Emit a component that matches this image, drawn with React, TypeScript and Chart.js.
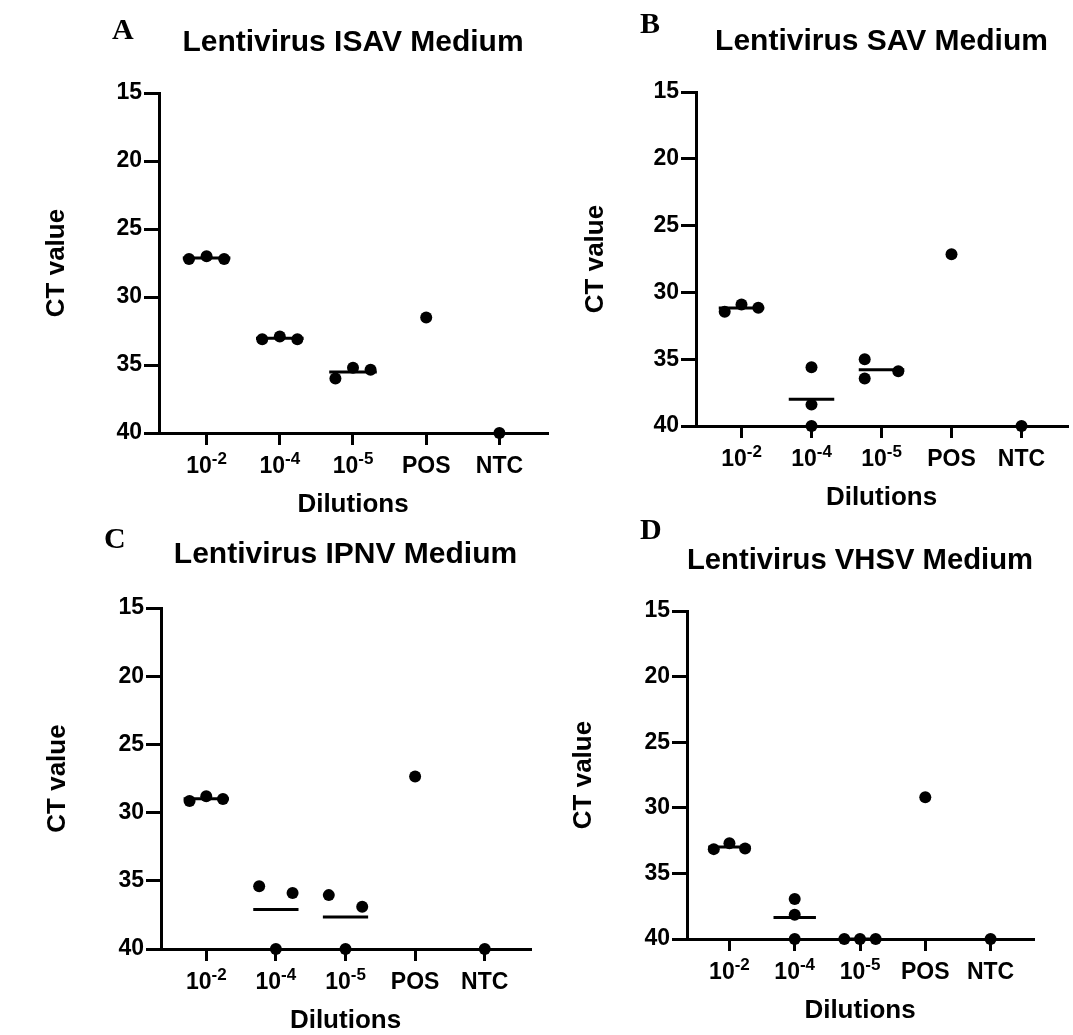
import React, { useEffect, useRef } from "react";
import { Chart, registerables } from "chart.js";

Chart.register(...registerables);

// ---------- data ----------
const categories = ["10^-2", "10^-4", "10^-5", "POS", "NTC"];
const yTickValues = [15, 20, 25, 30, 35, 40];
const yAxisLabel = "CT value";
const xAxisLabel = "Dilutions";

// Panel A
const isavTitle = "Lentivirus ISAV Medium";
const isavValues = [[27.2, 27.0, 27.2], [33.1, 32.9, 33.1], [36.0, 35.2, 35.35], [31.5], [40]];
const isavSpread = [[-1, 0, 1], [-1, 0, 1], [-1, 0, 1], [0], [0]];

// Panel B
const savTitle = "Lentivirus SAV Medium";
const savValues = [[31.45, 30.9, 31.15], [35.6, 38.4, 40.0], [35.0, 36.45, 35.9], [27.15], [40]];
const savSpread = [[-1, 0, 1], [0, 0, 0], [-1, -1, 1], [0], [0]];

// Panel C
const ipnvTitle = "Lentivirus IPNV Medium";
const ipnvValues = [[29.15, 28.8, 29.0], [35.4, 40.0, 35.9], [36.05, 40.0, 36.9], [27.35], [40]];
const ipnvSpread = [[-1, 0, 1], [-1, 0, 1], [-1, 0, 1], [0], [0]];

// Panel D
const vhsvTitle = "Lentivirus VHSV Medium";
const vhsvValues = [[33.15, 32.7, 33.1], [36.95, 38.15, 40.0], [40.0, 40.0, 40.0], [29.2], [40]];
const vhsvSpread = [[-1, 0, 1], [0, 0, 0], [-1, 0, 1], [0], [0]];

// groups that get a mean line
const meanGroups = [0, 1, 2];

// ---------- styles / layout ----------
const SANS = '"Liberation Sans", Arial, Helvetica, sans-serif';
const SERIF = '"Liberation Serif", "Times New Roman", serif';
const JITTER = 0.24;
const MEAN_HALF = 0.325;
const TITLE_SIZE = 30;
const AXIS_TITLE_SIZE = 26;
const TICK_SIZE = 23;
const SUP_SIZE = 17;
const X_TICK_LEN = 12;
const X_LABEL_PAD = 7.5;

type PanelCfg = {
  letter: string;
  title: string;
  values: number[][];
  spread: number[][];
  box: { left: number; top: number; width: number; height: number };
  area: { left: number; right: number; top: number; bottom: number };
  titleY: number;
  yTitleX: number;
  xTitleY: number;
  letterPos: { left: number; top: number };
};

const panels: PanelCfg[] = [
  {
    letter: "A", title: isavTitle, values: isavValues, spread: isavSpread,
    box: { left: 0, top: 0, width: 560, height: 523 },
    area: { left: 159, right: 547, top: 93, bottom: 433 },
    titleY: 42.5, yTitleX: 57, xTitleY: 505, letterPos: { left: 112, top: 14 },
  },
  {
    letter: "B", title: savTitle, values: savValues, spread: savSpread,
    box: { left: 560, top: 0, width: 513, height: 516 },
    area: { left: 696, right: 1070, top: 92, bottom: 426 },
    titleY: 42, yTitleX: 596, xTitleY: 498, letterPos: { left: 640, top: 8 },
  },
  {
    letter: "C", title: ipnvTitle, values: ipnvValues, spread: ipnvSpread,
    box: { left: 0, top: 520, width: 560, height: 515 },
    area: { left: 161, right: 530, top: 608, bottom: 949 },
    titleY: 555, yTitleX: 57.5, xTitleY: 1021, letterPos: { left: 104, top: 523 },
  },
  {
    letter: "D", title: vhsvTitle, values: vhsvValues, spread: vhsvSpread,
    box: { left: 560, top: 520, width: 513, height: 515 },
    area: { left: 687, right: 1033, top: 611, bottom: 939 },
    titleY: 560.5, yTitleX: 584, xTitleY: 1011, letterPos: { left: 640, top: 514 },
  },
];

// draws the x category labels, with "10^-2" style labels as real superscripts
const xLabelPlugin = {
  id: "xSuperscriptLabels",
  afterDraw(chart: any) {
    const s = chart.scales.x;
    const ctx = chart.ctx as CanvasRenderingContext2D;
    ctx.save();
    ctx.fillStyle = "#000";
    ctx.textAlign = "left";
    const yMid = s.top + X_TICK_LEN + X_LABEL_PAD + (TICK_SIZE * 1.2) / 2;
    const mainFont = `bold ${TICK_SIZE}px ${SANS}`;
    const supFont = `bold ${SUP_SIZE}px ${SANS}`;
    categories.forEach((lab, i) => {
      const [base, exp] = lab.split("^");
      const x = s.getPixelForValue(i + 1);
      ctx.font = mainFont;
      const wb = ctx.measureText(base).width;
      let we = 0;
      if (exp) {
        ctx.font = supFont;
        we = ctx.measureText(exp).width;
      }
      const x0 = x - (wb + we) / 2;
      ctx.font = mainFont;
      ctx.textBaseline = "middle";
      ctx.fillText(base, x0, yMid);
      if (exp) {
        ctx.font = supFont;
        ctx.textBaseline = "alphabetic";
        const mainBaseline = yMid + TICK_SIZE * 0.35;
        ctx.fillText(exp, x0 + wb, mainBaseline - 10);
      }
    });
    ctx.restore();
  },
};

function buildConfig(cfg: PanelCfg): any {
  const { box, area } = cfg;
  const yAxisWidth = area.left - box.left;
  const xAxisHeight = box.top + box.height - area.bottom;
  const titleLh = TITLE_SIZE;
  const titlePadTop = cfg.titleY - box.top - titleLh / 2;
  const titlePadBottom = area.top - box.top - titlePadTop - titleLh;
  const axisTitleLh = AXIS_TITLE_SIZE;
  const yTitlePad = cfg.yTitleX - box.left - axisTitleLh / 2;
  const xTitlePad = box.top + box.height - cfg.xTitleY - axisTitleLh / 2;

  const points = cfg.values.flatMap((grp, i) =>
    grp.map((v, j) => ({ x: i + 1 + cfg.spread[i][j] * JITTER, y: v }))
  );

  const meanSets = meanGroups.map((i) => {
    const grp = cfg.values[i];
    const m = grp.reduce((a, b) => a + b, 0) / grp.length;
    return {
      data: [
        { x: i + 1 - MEAN_HALF, y: m },
        { x: i + 1 + MEAN_HALF, y: m },
      ],
      showLine: true,
      borderColor: "#000",
      borderWidth: 3,
      pointRadius: 0,
      clip: false,
    };
  });

  const tickFont = { family: SANS, size: TICK_SIZE, weight: "bold" as const };
  const gridBase = {
    display: true,
    drawOnChartArea: false,
    drawTicks: true,
    tickWidth: 3,
    lineWidth: 3,
    tickColor: "#000",
    color: "#000",
  };

  return {
    type: "scatter",
    data: {
      datasets: [
        {
          data: points,
          backgroundColor: "#000",
          borderColor: "#000",
          borderWidth: 0,
          pointRadius: 6,
          pointHoverRadius: 6,
          clip: false,
        },
        ...meanSets,
      ],
    },
    plugins: [xLabelPlugin],
    options: {
      responsive: false,
      animation: false,
      events: [],
      layout: { padding: { left: 0, top: 0, bottom: 0, right: box.left + box.width - area.right } },
      plugins: {
        legend: { display: false },
        tooltip: { enabled: false },
        title: {
          display: true,
          text: cfg.title,
          fullSize: false,
          color: "#000",
          font: { family: SANS, size: TITLE_SIZE, weight: "bold", lineHeight: 1 },
          padding: { top: titlePadTop, bottom: titlePadBottom },
        },
      },
      scales: {
        x: {
          type: "linear",
          min: 0.35,
          max: 5.65,
          afterBuildTicks: (s: any) => {
            s.ticks = categories.map((_, i) => ({ value: i + 1 }));
          },
          afterFit: (s: any) => {
            s.height = xAxisHeight;
          },
          ticks: {
            autoSkip: false,
            maxRotation: 0,
            minRotation: 0,
            padding: X_LABEL_PAD,
            color: "#000",
            font: tickFont,
            callback: () => "",
          },
          grid: { ...gridBase, tickLength: X_TICK_LEN },
          border: { display: true, color: "#000", width: 3 },
          title: {
            display: true,
            text: xAxisLabel,
            color: "#000",
            font: { family: SANS, size: AXIS_TITLE_SIZE, weight: "bold", lineHeight: 1 },
            padding: { top: 0, bottom: xTitlePad },
          },
        },
        y: {
          type: "linear",
          reverse: true,
          min: 15,
          max: 40,
          afterBuildTicks: (s: any) => {
            s.ticks = yTickValues.map((v) => ({ value: v }));
          },
          afterFit: (s: any) => {
            s.width = yAxisWidth;
          },
          ticks: {
            padding: 2,
            color: "#000",
            font: tickFont,
            callback: (v: number) => String(v),
          },
          grid: { ...gridBase, tickLength: 15 },
          border: { display: true, color: "#000", width: 3 },
          title: {
            display: true,
            text: yAxisLabel,
            color: "#000",
            font: { family: SANS, size: AXIS_TITLE_SIZE, weight: "bold", lineHeight: 1 },
            padding: { top: yTitlePad, bottom: 0 },
          },
        },
      },
    },
  };
}

function Panel({ cfg }: { cfg: PanelCfg }) {
  const ref = useRef<HTMLCanvasElement | null>(null);
  useEffect(() => {
    if (!ref.current) return;
    const chart = new Chart(ref.current, buildConfig(cfg));
    return () => chart.destroy();
  }, [cfg]);
  return (
    <>
      <canvas
        ref={ref}
        width={cfg.box.width}
        height={cfg.box.height}
        style={{
          position: "absolute",
          left: cfg.box.left,
          top: cfg.box.top,
          width: cfg.box.width,
          height: cfg.box.height,
        }}
      />
      <div
        style={{
          position: "absolute",
          left: cfg.letterPos.left,
          top: cfg.letterPos.top,
          font: `bold 30px ${SERIF}`,
          lineHeight: "30px",
          color: "#000",
        }}
      >
        {cfg.letter}
      </div>
    </>
  );
}

export default function App() {
  return (
    <div
      style={{
        position: "absolute",
        left: 0,
        top: 0,
        width: 1073,
        height: 1035,
        overflow: "hidden",
        background: "#fff",
      }}
    >
      {panels.map((p) => (
        <Panel key={p.letter} cfg={p} />
      ))}
    </div>
  );
}
